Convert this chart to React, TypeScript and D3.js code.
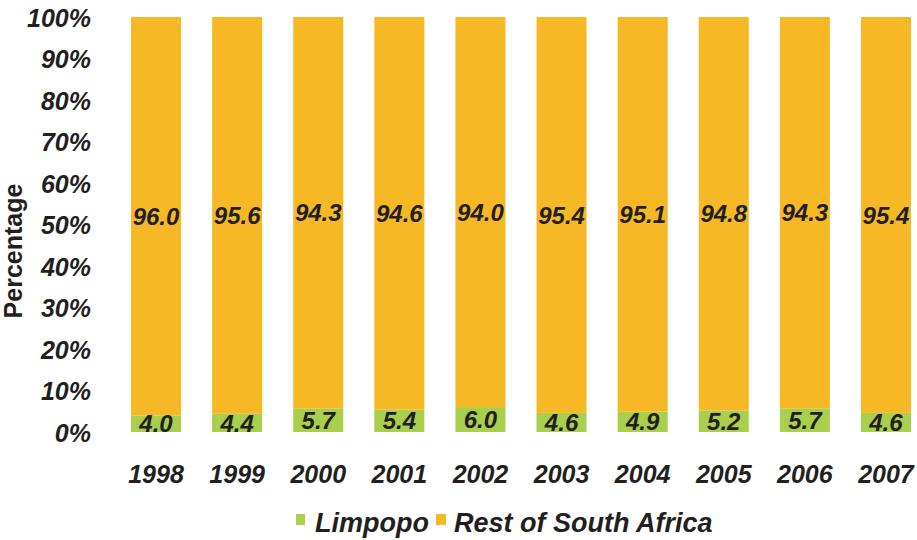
import React from "react";
import * as d3 from "d3";

const years = ["1998", "1999", "2000", "2001", "2002", "2003", "2004", "2005", "2006", "2007"];
const limpopo = [4.0, 4.4, 5.7, 5.4, 6.0, 4.6, 4.9, 5.2, 5.7, 4.6];
const restOfSA = [96.0, 95.6, 94.3, 94.6, 94.0, 95.4, 95.1, 94.8, 94.3, 95.4];
const yTicks = [0, 10, 20, 30, 40, 50, 60, 70, 80, 90, 100];
const seriesNames = ["Limpopo", "Rest of South Africa"];

const GREEN = "#A9CF4C";
const ORANGE = "#F7B826";
const TEXT = "#231F20";
const FONT = "'Liberation Sans', Arial, sans-serif";

export default function App() {
  const width = 917;
  const height = 540;
  const x = d3
    .scaleBand<string>()
    .domain(years)
    .range([114.8, 927.2])
    .paddingInner(0.383)
    .paddingOuter(0.2);
  const y = d3.scaleLinear().domain([0, 100]).range([432, 17]);

  const stackData = years.map((yr, i) => ({
    year: yr,
    Limpopo: limpopo[i],
    "Rest of South Africa": restOfSA[i],
  }));
  const stacked = d3.stack<any>().keys(seriesNames)(stackData);
  const colors = [GREEN, ORANGE];

  const labelProps = {
    fontFamily: FONT,
    fontWeight: "bold",
    fontStyle: "italic",
    fill: TEXT,
  } as const;

  return (
    <svg width={width} height={height} style={{ position: "absolute", left: 0, top: 0 }}>
      <rect width={width} height={height} fill="#fff" />
      {stacked.map((layer, li) =>
        layer.map((d, i) => (
          <rect
            key={`${li}-${i}`}
            x={x(years[i])}
            width={x.bandwidth()}
            y={y(d[1])}
            height={y(d[0]) - y(d[1])}
            fill={colors[li]}
          />
        ))
      )}
      {stacked.map((layer, li) =>
        layer.map((d, i) => (
          <text
            key={`l-${li}-${i}`}
            x={(x(years[i]) as number) + x.bandwidth() / 2}
            y={y((d[0] + d[1]) / 2)}
            dy="0.36em"
            textAnchor="middle"
            fontSize={24}
            {...labelProps}
          >
            {(li === 0 ? limpopo[i] : restOfSA[i]).toFixed(1)}
          </text>
        ))
      )}
      {yTicks.map((t) => (
        <text key={t} x={91} y={y(t)} dy="0.38em" textAnchor="end" fontSize={25} {...labelProps}>
          {t}%
        </text>
      ))}
      {years.map((yr) => (
        <text
          key={yr}
          x={(x(yr) as number) + x.bandwidth() / 2}
          y={483}
          textAnchor="middle"
          fontSize={25}
          {...labelProps}
        >
          {yr}
        </text>
      ))}
      <text
        transform="translate(22,251) rotate(-90)"
        textAnchor="middle"
        fontFamily={FONT}
        fontWeight="bold"
        fontSize={25}
        fill={TEXT}
      >
        Percentage
      </text>
      <g>
        <rect x={296} y={514} width={9} height={11} fill={GREEN} />
        <text x={315} y={532} fontSize={27} {...labelProps}>
          {seriesNames[0]}
        </text>
        <rect x={436} y={514} width={10} height={11} fill={ORANGE} />
        <text x={454} y={532} fontSize={27} {...labelProps}>
          {seriesNames[1]}
        </text>
      </g>
    </svg>
  );
}
